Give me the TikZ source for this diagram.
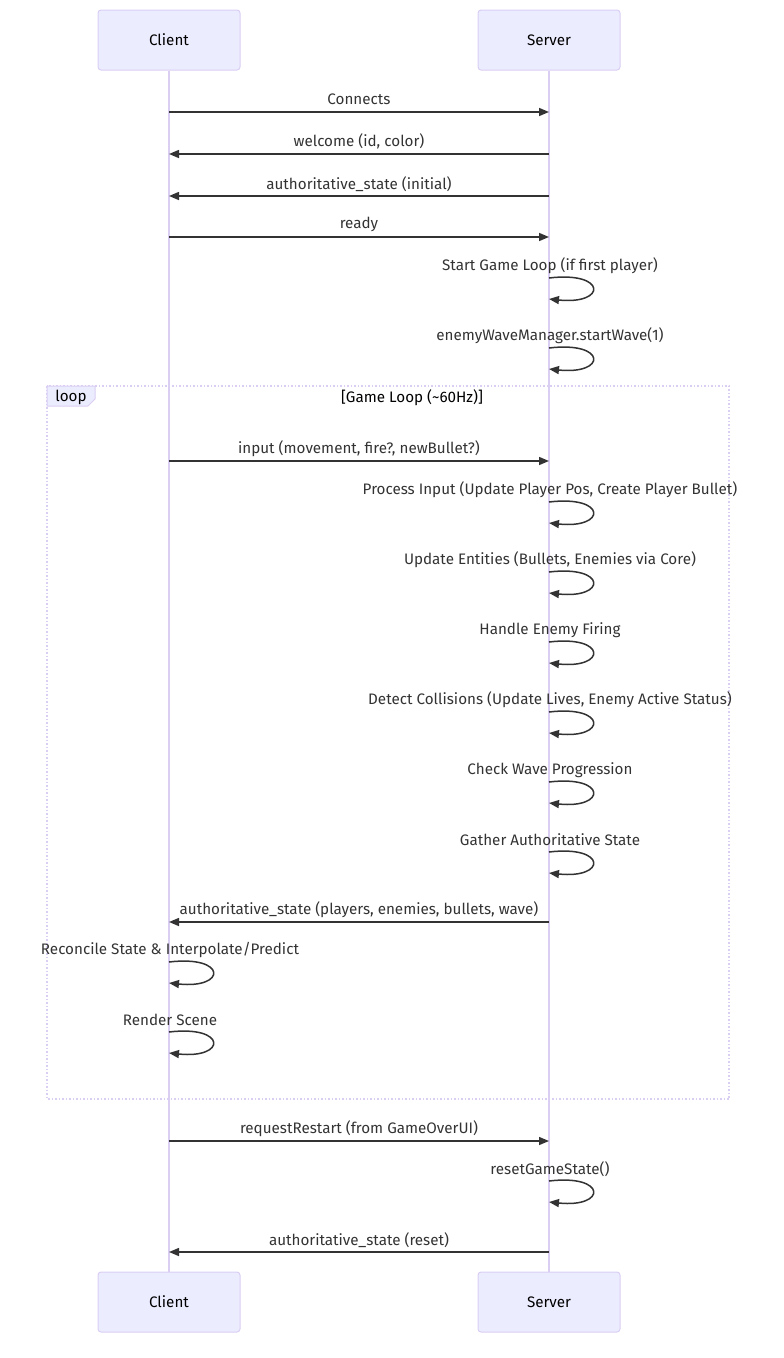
\documentclass[tikz,border=0pt]{standalone}
\usepackage{fontspec}
\setmainfont{Fira Sans}
\usetikzlibrary{arrows.meta}
\definecolor{actfill}{HTML}{ECECFF}
\definecolor{actline}{RGB}{218,206,243}
\definecolor{ink}{HTML}{333333}
\tikzset{
  actor/.style={draw=actline, fill=actfill, rounded corners=3pt, minimum width=142pt, minimum height=60pt, line width=1pt, font=\fontsize{15.2}{18}\selectfont, text=black},
  lifeline/.style={draw=actline, line width=2pt},
  msg/.style={draw=ink, line width=1.5pt, -{Triangle[length=10pt,width=8pt]}},
  lbl/.style={font=\fontsize{15.2}{18}\selectfont, text=ink, inner sep=0pt},
  loopbox/.style={draw=actline, line width=1.5pt, dotted},
}
\begin{document}
\begin{tikzpicture}[x=1pt,y=-1pt]
\useasboundingbox (0,0) rectangle (784,1358);
% actors
\node[actor] (ct) at (169,40) {Client};
\node[actor] (st) at (549,40) {Server};
\node[actor] (cb) at (169,1302) {Client};
\node[actor] (sb) at (549,1302) {Server};
\draw[lifeline] (ct.south) -- (cb.north);
\draw[lifeline] (st.south) -- (sb.north);
% loop frame
\draw[loopbox] (47,386) rectangle (729,1099);
\draw[draw=actline, fill=actfill, line width=1pt] (47,386) -- (95,386) -- (95,399) -- (88,406) -- (47,406) -- cycle;
\node[lbl, text=black] (looplbl) at (71,397.5) {loop};
\node[lbl, text=black] (loopcond) at (412,397.5) {[Game Loop (\textasciitilde 60Hz)]};
% coordinates for messages
\coordinate (c1) at (169,112); \coordinate (s1) at (549,112);
\coordinate (c2) at (169,154); \coordinate (s2) at (549,154);
\coordinate (c3) at (169,196); \coordinate (s3) at (549,196);
\coordinate (c4) at (169,237); \coordinate (s4) at (549,237);
\coordinate (c7) at (169,461); \coordinate (s7) at (549,461);
\coordinate (c14) at (169,922); \coordinate (s14) at (549,922);
\coordinate (c17) at (169,1141); \coordinate (s17) at (549,1141);
\coordinate (c19) at (169,1252); \coordinate (s19) at (549,1252);
\draw[msg] (c1) -- (s1) node[lbl, midway, yshift=12.3pt] (t1) {Connects};
\draw[msg] (s2) -- (c2) node[lbl, midway, yshift=12.3pt] (t2) {welcome (id, color)};
\draw[msg] (s3) -- (c3) node[lbl, midway, yshift=12.3pt] (t3) {authoritative\_state (initial)};
\draw[msg] (c4) -- (s4) node[lbl, midway, yshift=12.3pt] (t4) {ready};
\draw[msg] (c7) -- (s7) node[lbl, midway, yshift=12.3pt] (t7) {input (movement, fire?, newBullet?)};
\draw[msg] (s14) -- (c14) node[lbl, midway, yshift=12.3pt] (t14) {authoritative\_state (players, enemies, bullets, wave)};
\draw[msg] (c17) -- (s17) node[lbl, midway, yshift=12.3pt] (t17) {requestRestart (from GameOverUI)};
\draw[msg] (s19) -- (c19) node[lbl, midway, yshift=12.3pt] (t19) {authoritative\_state (reset)};
% self messages on server
\foreach \y/\txt [count=\i] in {
  278/{Start Game Loop (if first player)},
  348/{enemyWaveManager.startWave(1)},
  502/{Process Input (Update Player Pos, Create Player Bullet)},
  572/{Update Entities (Bullets, Enemies via Core)},
  642/{Handle Enemy Firing},
  712/{Detect Collisions (Update Lives, Enemy Active Status)},
  782/{Check Wave Progression},
  852/{Gather Authoritative State},
  1181/{resetGameState()}} {
  \coordinate (sa\i) at (549,\y);
  \coordinate (sb\i) at (549,\y+21);
  \node[lbl] (st\i) at (550,\y-12.3) {\txt};
  \draw[msg] (sa\i) .. controls +(58,-7) and +(58,6) .. (sb\i);
}
% self messages on client
\foreach \y/\txt [count=\i] in {
  962/{Reconcile State \& Interpolate/Predict},
  1032/{Render Scene}} {
  \coordinate (ca\i) at (169,\y);
  \coordinate (cb\i) at (169,\y+21);
  \node[lbl] (ct\i) at (170,\y-12.3) {\txt};
  \draw[msg] (ca\i) .. controls +(58,-7) and +(58,6) .. (cb\i);
}
\end{tikzpicture}
\end{document}
